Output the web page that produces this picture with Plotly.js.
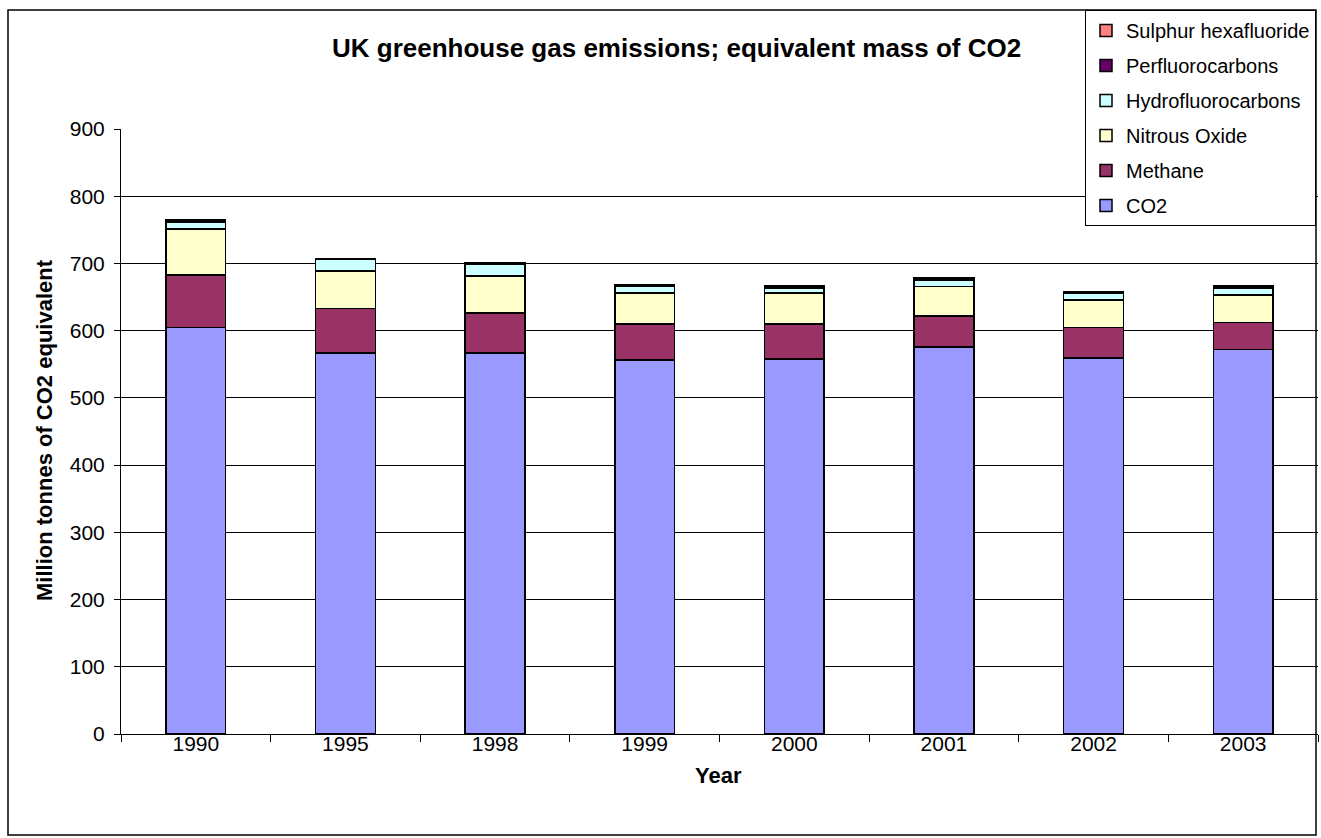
<!DOCTYPE html>
<html>
<head>
<meta charset="utf-8">
<script src="https://cdn.plot.ly/plotly-3.0.1.min.js"></script>
<style>
  html, body { margin: 0; padding: 0; background: #ffffff; }
  #chart { width: 1321px; height: 838px; }
</style>
</head>
<body>
<div id="chart"></div>
<script>
// Categories (years)
const years = ["1990", "1995", "1998", "1999", "2000", "2001", "2002", "2003"];

// Series values, million tonnes CO2 equivalent
const co2      = [605, 567, 567, 556, 558, 576, 559, 572];
const methane  = [78, 66, 59, 54, 52, 46, 45.5, 40];
const nitrous  = [68, 56, 55, 46, 46, 43.5, 41, 41];
const hfc      = [11, 17, 18, 10, 7, 10, 10, 10];
const pfc      = [2, 0.5, 1, 1, 0.5, 1, 0.5, 0.5];
const sf6      = [1, 1, 1, 2, 3, 2, 2, 3];

const seriesNames = ["CO2", "Methane", "Nitrous Oxide", "Hydrofluorocarbons", "Perfluorocarbons", "Sulphur hexafluoride"];
const seriesData = [co2, methane, nitrous, hfc, pfc, sf6];
const seriesColors = ["#9999FF", "#993366", "#FFFFCC", "#CCFFFF", "#660066", "#FF8080"];

const traces = seriesNames.map((name, i) => ({
  type: "bar",
  name: name,
  x: years,
  y: seriesData[i],
  legendgroup: "g" + i,
  legendrank: 100 - i,
  marker: { color: seriesColors[i], line: { color: "#000000", width: 1.5 } },
  hoverinfo: "x+y+name"
}));

// Plot-area geometry (pixels)
const W = 1321, H = 838;
const L = 121, R = 3, T = 129, B = 104;
const pw = W - L - R, ph = H - T - B;
const px = v => (v - L) / pw;          // pixel x -> paper x
const py = v => (H - B - v) / ph;      // pixel y -> paper y

const font = "Arial, 'Liberation Sans', sans-serif";

const layout = {
  width: W, height: H,
  margin: { l: L, r: R, t: T, b: B, pad: 0 },
  paper_bgcolor: "#ffffff",
  plot_bgcolor: "#ffffff",
  barmode: "stack",
  bargap: 0.6,
  font: { family: font, size: 22, color: "#000000" },
  showlegend: true,
  legend: {
    x: px(1316), y: py(10), xanchor: "right", yanchor: "top",
    bgcolor: "#ffffff", bordercolor: "#000000", borderwidth: 1,
    font: { family: font, size: 20, color: "#000000" },
    traceorder: "grouped",
    tracegroupgap: 6,
    itemwidth: 30
  },
  xaxis: {
    type: "category",
    showline: true, linecolor: "#000000", linewidth: 1,
    ticks: "outside", tickson: "boundaries", ticklen: 7, tickcolor: "#000000",
    ticklabelstandoff: -9,
    showgrid: false, zeroline: false,
    tickfont: { family: font, size: 21, color: "#000000" },
    fixedrange: true
  },
  yaxis: {
    range: [0, 900],
    dtick: 100, tick0: 0,
    showline: true, linecolor: "#000000", linewidth: 1,
    ticks: "outside", ticklen: 6, tickcolor: "#000000",
    ticklabelstandoff: 5,
    showgrid: true, gridcolor: "#000000", gridwidth: 1,
    zeroline: false,
    tickfont: { family: font, size: 21, color: "#000000" },
    fixedrange: true
  },
  shapes: [
    {
      type: "rect", xref: "paper", yref: "paper", layer: "below",
      x0: px(8), x1: px(1316), y0: py(835), y1: py(10),
      line: { color: "#000000", width: 1.5 }, fillcolor: "rgba(0,0,0,0)"
    }
  ],
  annotations: [
    {
      text: "<b>UK greenhouse gas emissions; equivalent mass of CO2</b>",
      xref: "paper", yref: "paper", x: px(676), y: py(48),
      xanchor: "center", yanchor: "middle", showarrow: false,
      font: { family: font, size: 26, color: "#000000" }
    },
    {
      text: "<b>Million tonnes of CO2 equivalent</b>",
      xref: "paper", yref: "paper", x: px(44), y: py(430),
      xanchor: "center", yanchor: "middle", showarrow: false, textangle: -90,
      font: { family: font, size: 22, color: "#000000" }
    },
    {
      text: "<b>Year</b>",
      xref: "paper", yref: "paper", x: px(718), y: py(776),
      xanchor: "center", yanchor: "middle", showarrow: false,
      font: { family: font, size: 22, color: "#000000" }
    }
  ]
};

Plotly.newPlot("chart", traces, layout, { displayModeBar: false });
</script>
</body>
</html>
